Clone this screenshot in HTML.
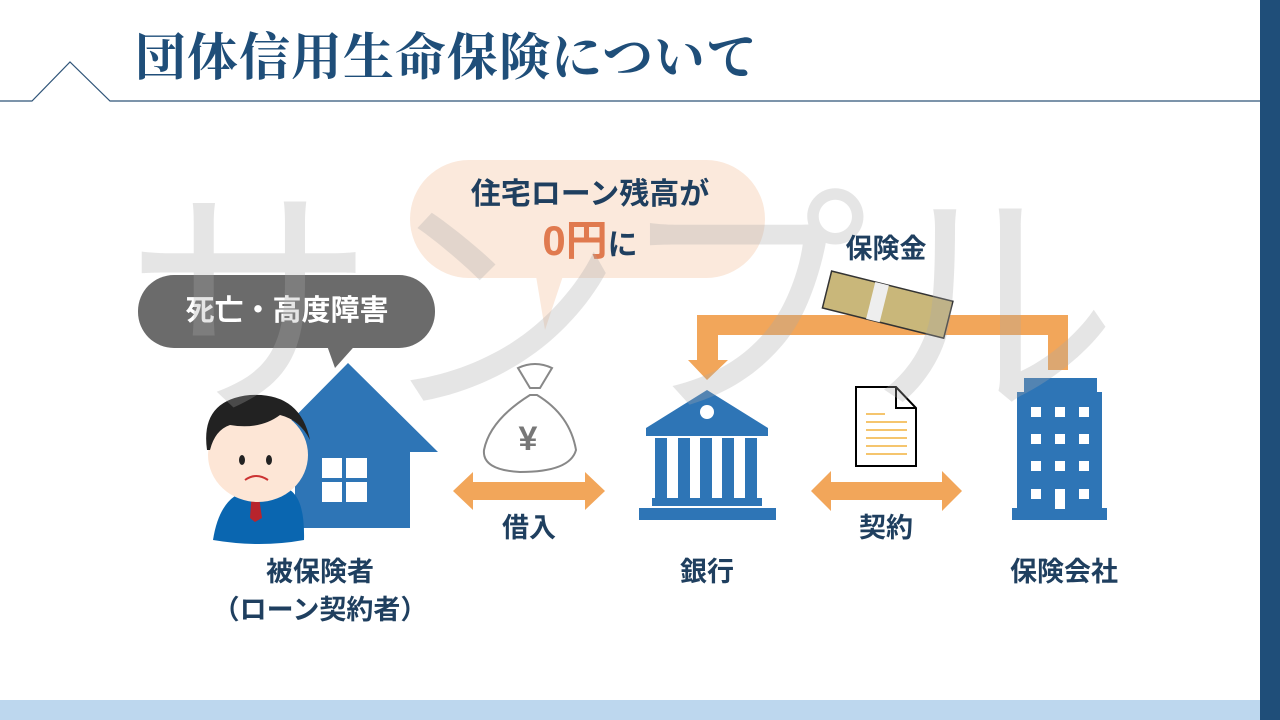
<!DOCTYPE html>
<html><head><meta charset="utf-8"><style>
body{margin:0;width:1280px;height:720px;overflow:hidden;background:#fff;position:relative;font-family:"Liberation Sans","Noto Sans CJK JP",sans-serif}
.a{position:absolute}
.lbl{position:absolute;color:#1f3f5f;font-weight:bold;font-size:27px;transform:translateX(-50%);white-space:nowrap;line-height:1}
</style></head><body>
<div class="a" style="left:1260px;top:0;width:20px;height:720px;background:#1f4e79"></div>
<div class="a" style="left:0;top:700px;width:1260px;height:20px;background:#bdd7ee"></div>
<svg class="a" style="left:0;top:0" width="1280" height="720">
<polyline points="0,101 32,101 70,62 110,101 1260,101" fill="none" stroke="#2f5478" stroke-width="1.2"/>
<rect x="410" y="160" width="355" height="118" rx="59" fill="#fbe9dc"/>
<polygon points="535,270 565,270 545,330" fill="#fbe9dc"/>
<rect x="138" y="275" width="297" height="73" rx="36" fill="#6b6b6b"/>
<polygon points="325,340 360,340 335,368" fill="#6b6b6b"/>
<polygon points="348,363 260,452 295,452 295,528 410,528 410,452 438,452" fill="#2e75b6"/>
<rect x="322" y="458" width="20" height="20" fill="#fff"/><rect x="346" y="458" width="21" height="20" fill="#fff"/>
<rect x="322" y="482" width="20" height="20" fill="#fff"/><rect x="346" y="482" width="21" height="20" fill="#fff"/>
<path d="M213,540 Q220,495 250,490 L290,490 Q305,500 304,540 Q260,548 213,540Z" fill="#0a66b0"/>
<polygon points="252,490 258,490 262,518 255,522 250,518" fill="#b8242c"/>
<ellipse cx="258" cy="455" rx="50" ry="47" fill="#fde6d6"/>
<path d="M207,450 Q200,400 250,395 Q300,392 310,440 Q300,420 280,415 Q260,430 230,425 Q215,430 210,450Z" fill="#222"/>
<ellipse cx="242" cy="460" rx="3" ry="5" fill="#222"/><ellipse cx="269" cy="460" rx="3" ry="5" fill="#222"/>
<path d="M245,480 Q256,472 268,480" fill="none" stroke="#c33" stroke-width="2"/>
<path d="M530,395 Q490,420 484,450 Q482,470 520,472 Q570,472 576,450 Q570,415 537,395Z" fill="#fff" stroke="#888" stroke-width="2"/>
<path d="M518,368 Q535,360 552,368 L540,388 L530,388Z" fill="#fff" stroke="#888" stroke-width="2"/>
<text x="528" y="450" font-size="34" font-weight="bold" fill="#777" text-anchor="middle">¥</text>
<polygon points="453,491 473,472 473,482 585,482 585,472 605,491 585,510 585,500 473,500 473,510" fill="#f2a65a"/>
<polygon points="811,491 831,471 831,482 942,482 942,471 962,491 942,511 942,500 831,500 831,511" fill="#f2a65a"/>
<polygon points="697,315 1068,315 1068,370 1048,370 1048,335 718,335 718,360 728,360 707,380 688,360 697,360" fill="#f2a65a"/>
<g transform="rotate(14 885 305)"><rect x="825" y="285" width="125" height="38" fill="#c9b77a" stroke="#333" stroke-width="1.5"/><rect x="870" y="285" width="14" height="38" fill="#eee"/></g>
<polygon points="707,390 646,428 768,428" fill="#2e75b6"/>
<circle cx="707" cy="412" r="7" fill="#fff"/>
<rect x="646" y="428" width="122" height="8" fill="#2e75b6"/>
<rect x="655" y="438" width="12" height="60" fill="#2e75b6"/><rect x="678" y="438" width="12" height="60" fill="#2e75b6"/>
<rect x="700" y="438" width="12" height="60" fill="#2e75b6"/><rect x="722" y="438" width="12" height="60" fill="#2e75b6"/><rect x="745" y="438" width="12" height="60" fill="#2e75b6"/>
<rect x="652" y="498" width="110" height="8" fill="#2e75b6"/><rect x="639" y="508" width="137" height="12" fill="#2e75b6"/>
<path d="M856,387 L896,387 L916,408 L916,466 L856,466Z" fill="#fff" stroke="#000" stroke-width="2"/>
<path d="M896,387 L896,408 L916,408" fill="none" stroke="#000" stroke-width="2"/>
<g stroke="#f5c56e" stroke-width="2"><line x1="866" y1="414" x2="885" y2="414"/><line x1="866" y1="422" x2="907" y2="422"/><line x1="866" y1="430" x2="907" y2="430"/><line x1="866" y1="438" x2="907" y2="438"/><line x1="866" y1="446" x2="907" y2="446"/><line x1="866" y1="454" x2="907" y2="454"/></g>
<path d="M1024,378 L1097,378 L1097,392 L1102,392 L1102,508 L1107,508 L1107,520 L1012,520 L1012,508 L1017,508 L1017,392 L1024,392Z" fill="#2e75b6"/>
<g fill="#fff"><rect x="1031" y="407" width="10" height="10"/><rect x="1055" y="407" width="10" height="10"/><rect x="1079" y="407" width="10" height="10"/>
<rect x="1031" y="434" width="10" height="10"/><rect x="1055" y="434" width="10" height="10"/><rect x="1079" y="434" width="10" height="10"/>
<rect x="1031" y="461" width="10" height="10"/><rect x="1055" y="461" width="10" height="10"/><rect x="1079" y="461" width="10" height="10"/>
<rect x="1031" y="489" width="10" height="10"/><rect x="1055" y="489" width="10" height="20"/><rect x="1079" y="489" width="10" height="10"/></g>
</svg>
<div class="a" style="left:135px;top:31px;font-family:'Liberation Serif','Noto Serif CJK SC',serif;font-weight:bold;font-size:51px;color:#1f4e79;letter-spacing:1px;white-space:nowrap;line-height:1.1">団体信用生命保険について</div>
<div class="lbl" style="left:590px;top:180px;font-size:30px">住宅ローン残高が</div>
<div class="lbl" style="left:590px;top:220px;font-size:30px"><span style="color:#e07a4f;font-size:42px">0円</span>に</div>
<div class="lbl" style="left:287px;top:297px;color:#fff;font-size:29px">死亡・高度障害</div>
<div class="a" style="left:125px;top:185px;font-size:250px;color:rgba(170,170,170,0.3);white-space:nowrap;letter-spacing:0px;line-height:1">サンプル</div>
<div class="lbl" style="left:886px;top:236px">保険金</div>
<div class="lbl" style="left:529px;top:515px">借入</div>
<div class="lbl" style="left:886px;top:515px">契約</div>
<div class="lbl" style="left:707px;top:559px">銀行</div>
<div class="lbl" style="left:1064px;top:559px">保険会社</div>
<div class="lbl" style="left:320px;top:559px">被保険者</div>
<div class="lbl" style="left:320px;top:597px">（ローン契約者）</div>
</body></html>
